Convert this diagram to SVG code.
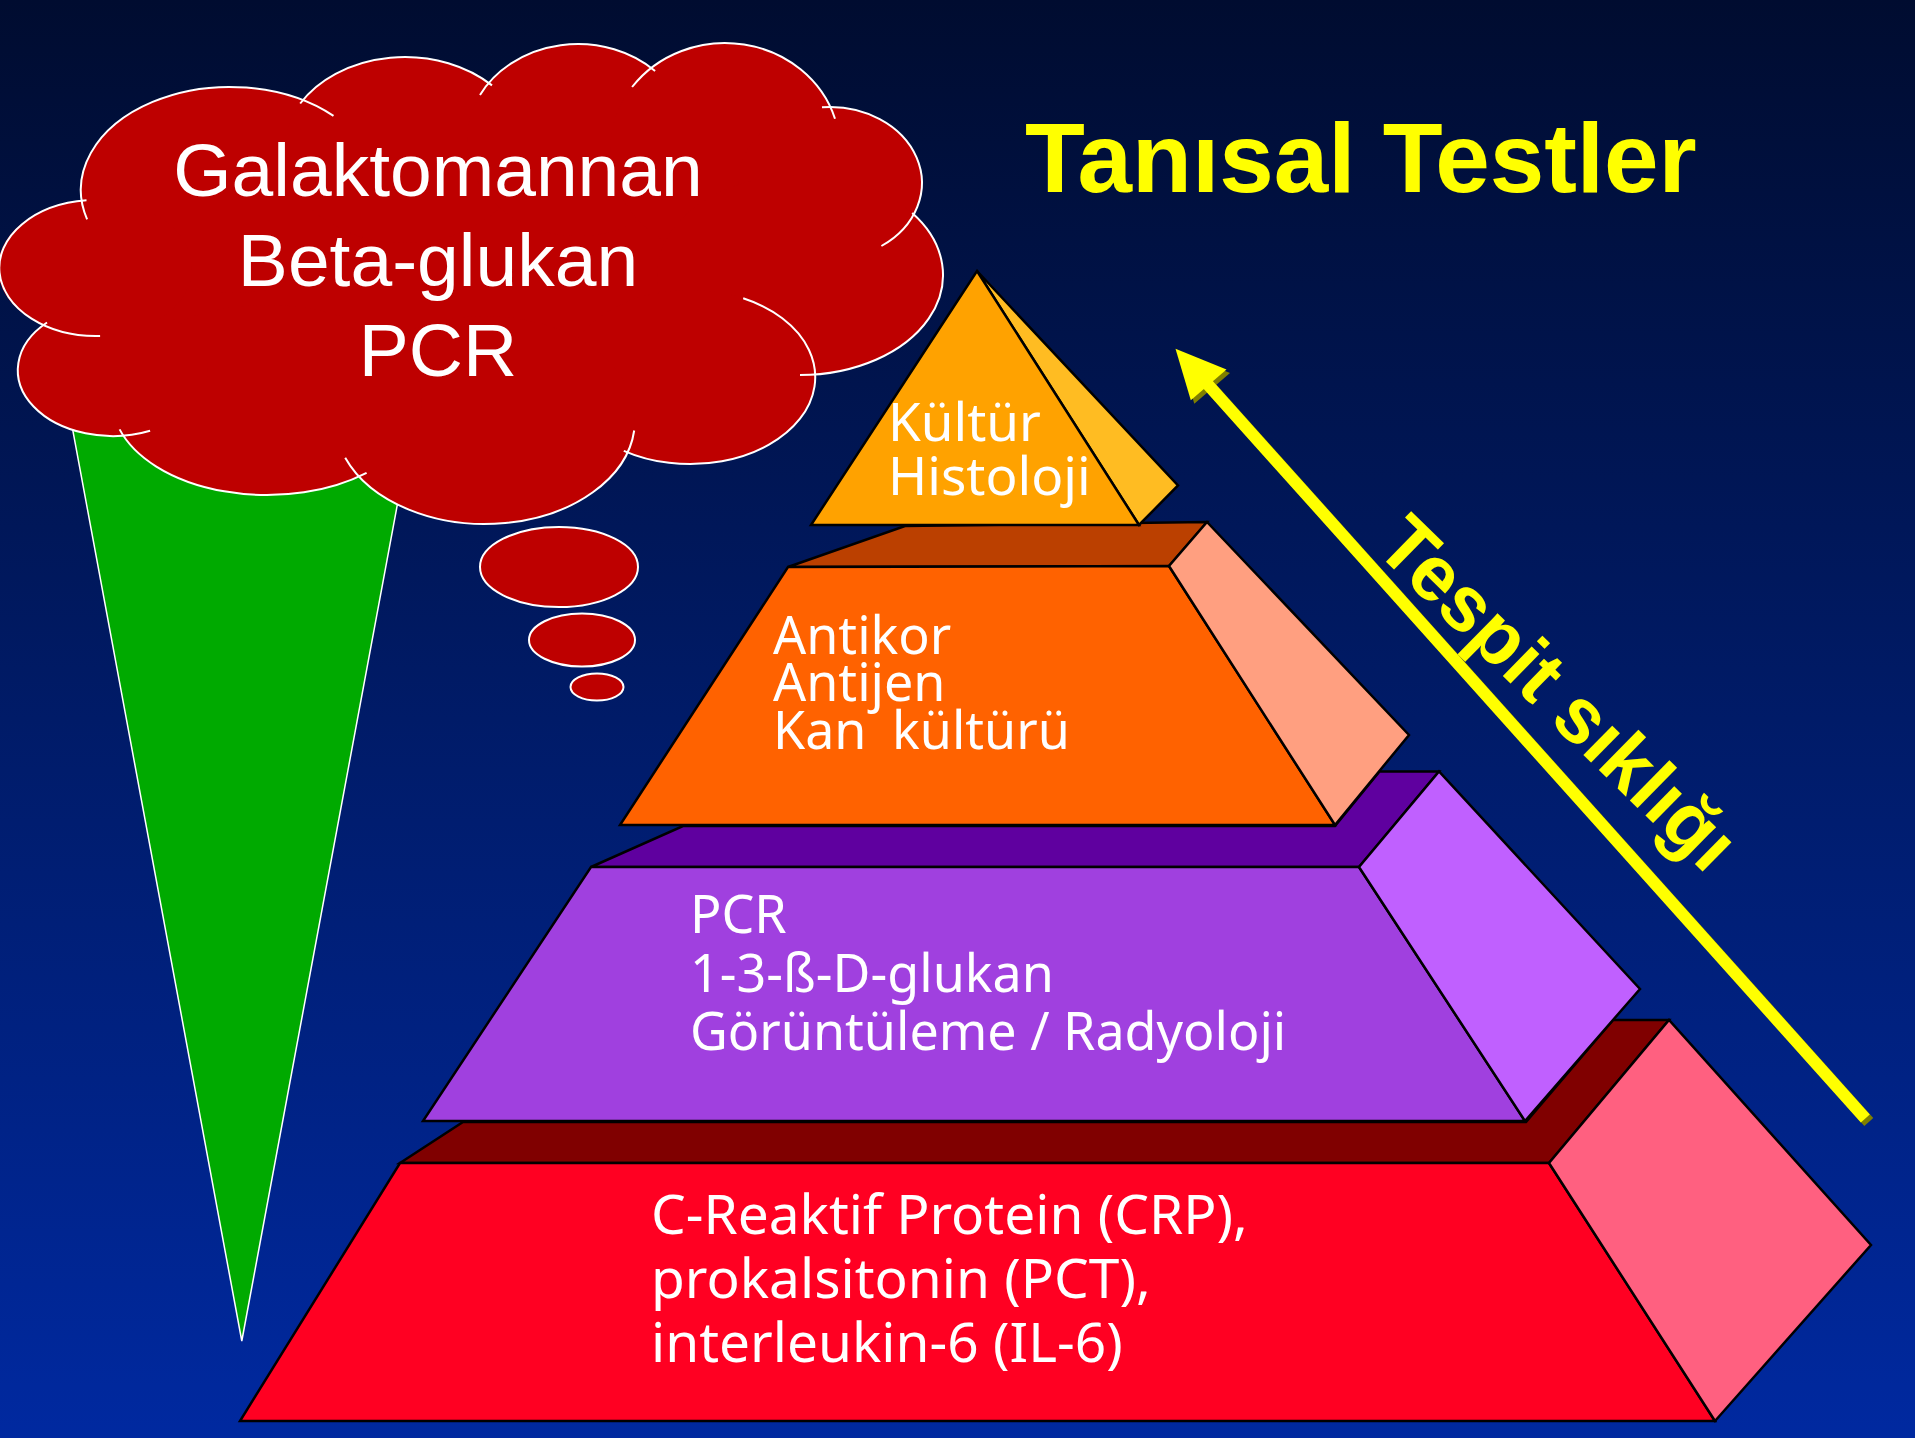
<svg xmlns="http://www.w3.org/2000/svg" width="1915" height="1438" viewBox="0 0 1915 1438">
<defs>
<linearGradient id="bg" x1="0" y1="0" x2="0" y2="1">
<stop offset="0" stop-color="#000C30"/>
<stop offset="0.5" stop-color="#001B68"/>
<stop offset="1" stop-color="#0029A0"/>
</linearGradient>
<style>
.edge{stroke:#000;stroke-width:2.5;stroke-linejoin:miter}
.bump{fill:#BE0000}
.arc{fill:none;stroke:#fff;stroke-width:2}
.lbl{fill:#fff;font-family:"Noto Sans","DejaVu Sans",sans-serif}
.cloudtxt{fill:#fff;font-family:"Liberation Sans",Arial,sans-serif;font-size:75px;text-anchor:middle}
.yel{fill:#FFFF00;font-family:"Liberation Sans",Arial,sans-serif;font-weight:bold}
</style>
</defs>
<rect width="1915" height="1438" fill="url(#bg)"/>

<g id="cone">
<polygon points="57.9,350 426.1,350 241.8,1341" fill="#00AA00" stroke="#fff" stroke-width="1.5"/>
</g>

<g id="cloud">
<g class="bump">
<polygon points="230,190 405,150 578,140 725,150 830,183 800,275 690,377 485,420 267,400 113,370 95,268"/>
<ellipse cx="230" cy="190" rx="149" ry="103"/>
<ellipse cx="405" cy="150" rx="121" ry="93"/>
<ellipse cx="578" cy="140" rx="111" ry="96"/>
<ellipse cx="725" cy="150" rx="115" ry="107"/>
<ellipse cx="830" cy="183" rx="92" ry="76"/>
<ellipse cx="800" cy="275" rx="143" ry="100"/>
<ellipse cx="690" cy="377" rx="125" ry="87"/>
<ellipse cx="485" cy="420" rx="150" ry="104"/>
<ellipse cx="267" cy="400" rx="155" ry="95"/>
<ellipse cx="113" cy="370" rx="95" ry="66"/>
<ellipse cx="95" cy="268" rx="97" ry="68"/>
</g>
<g class="arc">
<path d="M87.1,219.3 A149,103 0 0 1 333.5,115.9"/>
<path d="M300.2,103.5 A121,93 0 0 1 492.0,85.4"/>
<path d="M480.0,94.9 A111,96 0 0 1 655.1,70.9"/>
<path d="M632.1,87.0 A115,107 0 0 1 835.0,118.7"/>
<path d="M822.0,107.3 A92,76 0 0 1 881.4,246.0"/>
<path d="M912.2,213.0 A143,100 0 0 1 800,375"/>
<path d="M743.2,298.3 A125,87 0 1 1 623.8,450.8"/>
<path d="M634.2,430.5 A150,104 0 0 1 345.2,457.8"/>
<path d="M366.6,472.8 A155,95 0 0 1 119.6,429.4"/>
<path d="M150.1,430.8 A95,66 0 0 1 47.0,322.5"/>
<path d="M100.1,335.9 A97,68 0 0 1 86.5,200.3"/>
</g>
<text class="cloudtxt" x="438" y="196">Galaktomannan</text>
<text class="cloudtxt" x="438" y="286">Beta-glukan</text>
<text class="cloudtxt" x="438" y="376">PCR</text>
</g>

<g id="bubbles" fill="#BE0000" stroke="#fff" stroke-width="2">
<ellipse cx="559" cy="567" rx="79" ry="40"/>
<ellipse cx="582" cy="640" rx="53" ry="26.5"/>
<ellipse cx="597" cy="687" rx="26.5" ry="13.5"/>
</g>

<g id="title">
<text class="yel" x="1025" y="192" font-size="98">Tanısal Testler</text>
</g>

<g id="tier4">
<polygon class="edge" fill="#800000" points="400,1163 463,1122 1526,1122 1613,1020 1669,1020 1549,1163"/>
<polygon class="edge" fill="#FF0022" points="400,1163 1549,1163 1715,1421 240,1421"/>
<polygon class="edge" fill="#FF6080" points="1549,1163 1669,1020 1871,1245 1715,1421"/>
<text class="lbl" font-size="55"><tspan x="651" y="1234">C-Reaktif Protein (CRP),</tspan><tspan x="651" y="1298">prokalsitonin (PCT),</tspan><tspan x="651" y="1362">interleukin-6 (IL-6)</tspan></text>
</g>

<g id="tier3">
<polygon class="edge" fill="#5F009F" points="591,867 683,826 1335,826 1379.5,771.5 1439,771.5 1359,867"/>
<polygon class="edge" fill="#A040DF" points="591,867 1359,867 1525,1121 423,1121"/>
<polygon class="edge" fill="#C060FF" points="1359,867 1439,771.5 1640,989 1525,1121"/>
<text class="lbl" font-size="52"><tspan x="690" y="933">PCR</tspan><tspan x="690" y="992">1-3-ß-D-glukan</tspan><tspan x="690" y="1050">Görüntüleme / Radyoloji</tspan></text>
</g>

<g id="tier2">
<polygon class="edge" fill="#BB4000" points="788,567 905,526 1207,522 1169,566"/>
<polygon class="edge" fill="#FF6200" points="788,567 1169,566 1335,825 620,825"/>
<polygon class="edge" fill="#FF9F80" points="1169,566 1207,522 1409,735 1335,825"/>
<text class="lbl" font-size="52"><tspan x="773" y="654">Antikor</tspan><tspan x="773" y="701">Antijen</tspan><tspan x="773" y="749">Kan <tspan dx="12">kültürü</tspan></tspan></text>
</g>

<g id="tier1">
<polygon class="edge" fill="#FFBC22" points="977,271 1178,485.5 1139,525"/>
<polygon class="edge" fill="#FFA200" points="977,271 1139,525 811,525"/>
<text class="lbl" font-size="53"><tspan x="888" y="441">Kültür</tspan><tspan x="888" y="495">Histoloji</tspan></text>
</g>

<g id="connectors">
<g transform="translate(3.5,3.5)" fill="#7F7F00" stroke="#7F7F00">
<line x1="1865.3" y1="1118.4" x2="1202" y2="378" stroke-width="12"/>
<polygon points="1175.5,348.8 1226.5,369.4 1190.8,400.3" stroke="none"/>
</g>
<g fill="#FFFF00" stroke="#FFFF00">
<line x1="1865.3" y1="1118.4" x2="1202" y2="378" stroke-width="12"/>
<polygon points="1175.5,348.8 1226.5,369.4 1190.8,400.3" stroke="none"/>
</g>
</g>

<g id="arrow-label">
<text class="yel" font-size="78" transform="translate(1373,549) rotate(44.4)">Tespit sıklığı</text>
</g>
</svg>
